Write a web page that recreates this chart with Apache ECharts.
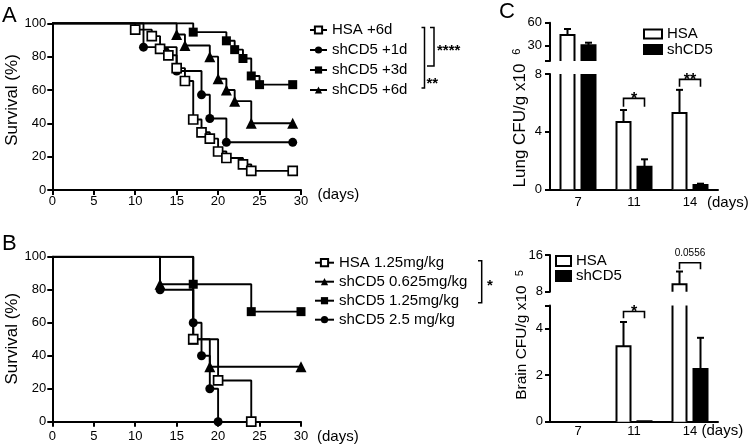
<!DOCTYPE html>
<html>
<head>
<meta charset="utf-8">
<script src="https://cdn.jsdelivr.net/npm/echarts@6/dist/echarts.min.js"></script>
<style>html,body{margin:0;padding:0;background:#fff}#c{width:750px;height:445px}</style>
</head>
<body>
<div id="c"></div>
<script>
// ---------- Panel A: survival, time of treatment ----------
const A_names = ['HSA +6d', 'shCD5 +1d', 'shCD5 +3d', 'shCD5 +6d'];
const A_HSA_t = [0, 10, 12, 13, 14, 15, 16, 17, 18, 19, 20, 21, 23, 24, 29];
const A_HSA_s = [100, 96.2, 92.3, 84.6, 80.8, 73.1, 65.4, 42.3, 34.6, 30.8, 23.1, 19.2, 15.4, 11.5, 11.5];
const A_1d_t = [0, 11, 15, 18, 19, 21, 29];
const A_1d_s = [100, 85.7, 71.4, 57.1, 42.9, 28.6, 28.6];
const A_3d_t = [0, 17, 21, 22, 23, 24, 25, 29];
const A_3d_s = [100, 94.7, 89.5, 84.2, 78.9, 68.4, 63.2, 63.2];
const A_6d_t = [0, 15, 16, 19, 20, 21, 22, 24, 29];
const A_6d_s = [100, 93.3, 86.7, 80, 66.7, 60, 53.3, 40, 40];

// ---------- Panel B: survival, dose ----------
const B_names = ['HSA 1.25mg/kg', 'shCD5 0.625mg/kg', 'shCD5 1.25mg/kg', 'shCD5 2.5 mg/kg'];
const B_HSA_t = [0, 17, 20, 24];
const B_HSA_s = [100, 50, 25, 0];
const B_0625_t = [0, 13, 17, 19, 30];
const B_0625_s = [100, 83.3, 50, 33.3, 33.3];
const B_125_t = [0, 17, 24, 30];
const B_125_s = [100, 83.3, 66.7, 66.7];
const B_25_t = [0, 13, 17, 18, 19, 20];
const B_25_s = [100, 80, 60, 40, 20, 0];

// ---------- Panel C: CFU ----------
const days = ['7', '11', '14'];
const lungHSA = [44, 4.67, 5.3];
const lungHSAErr = [51.8, 5.5, 6.9];
const lungSh = [30.5, 1.57, 0.3];
const lungShErr = [33.9, 2.08, 0.39];
const brainHSA = [0, 3.25, 9.6];
const brainHSAErr = [0, 4.29, 12.4];
const brainSh = [0, 0.02, 2.27];
const brainShErr = [0, 0.02, 3.61];
// significance brackets: [category index, bracket level, leg end]
const lungSig = [[1, 6.31, 5.73], [2, 7.63, 7.12]];
const lungSigText = ['*', '**'];
const brainSigLow = [[1, 4.74, 4.45]];
const brainSigLowText = ['*'];
const brainSigUp = [[2, 14.32, 12.88]];
const brainSigUpText = ['0.0556'];

const FONT = '"Liberation Sans", Arial, Helvetica, sans-serif';
const K = '#000';

function km(t, s) {
  return t.map((x, i) => i === 0 ? { value: [x, s[i]], symbol: 'none' } : { value: [x, s[i]] });
}
function kmSeries(name, t, s, sym, open, gi, size) {
  return {
    type: 'line', name: name, step: 'end', xAxisIndex: gi, yAxisIndex: gi,
    data: km(t, s), symbol: sym, symbolSize: size, showAllSymbol: true,
    lineStyle: { color: K, width: 1.9 },
    itemStyle: { color: open ? '#fff' : K, borderColor: K, borderWidth: open ? 1.7 : 0 },
    emphasis: { disabled: true }, z: open ? 3 : 2
  };
}
function barData(v, e) { return days.map((d, i) => [i, v[i], e[i]]); }
function barRender(sign, fill) {
  return function (params, api) {
    const cs = params.coordSys;
    const i = api.value(0), v = api.value(1), e = api.value(2);
    const pTop = api.coord([i, v]), pBase = api.coord([i, 0]), pErr = api.coord([i, e]);
    const cx = pTop[0] + sign * 10.5, hw = 7;
    const yMin = cs.y, yMax = cs.y + cs.height;
    const kids = [];
    const st = { stroke: K, lineWidth: 2, fill: null };
    const yt = Math.max(pTop[1], yMin), yb = Math.min(pBase[1], yMax);
    if (yb - yt > 0.01) {
      kids.push({ type: 'rect', shape: { x: cx - hw, y: yt, width: 2 * hw, height: yb - yt }, style: { fill: fill } });
      if (pTop[1] >= yMin - 0.01) {
        kids.push({ type: 'polyline', shape: { points: [[cx - hw, yb], [cx - hw, yt], [cx + hw, yt], [cx + hw, yb]] }, style: st });
      } else {
        kids.push({ type: 'line', shape: { x1: cx - hw, y1: yb, x2: cx - hw, y2: yt }, style: st });
        kids.push({ type: 'line', shape: { x1: cx + hw, y1: yb, x2: cx + hw, y2: yt }, style: st });
      }
    }
    if (e > v) {
      const ey = pErr[1];
      const s1 = Math.max(ey, yMin), s2 = Math.min(pTop[1], yMax);
      if (s2 > s1) kids.push({ type: 'line', shape: { x1: cx, y1: s1, x2: cx, y2: s2 }, style: st });
      if (ey >= yMin && ey <= yMax) kids.push({ type: 'line', shape: { x1: cx - 3.5, y1: ey, x2: cx + 3.5, y2: ey }, style: st });
    }
    return { type: 'group', children: kids };
  };
}
function sigRender(labels) {
  return function (params, api) {
    const i = api.value(0), yb = api.value(1), yl = api.value(2);
    const p = api.coord([i, yb]), q = api.coord([i, yl]);
    const x1 = p[0] - 10.5, x2 = p[0] + 10.5;
    const lab = labels[params.dataIndex];
    const star = lab.indexOf('*') >= 0;
    return {
      type: 'group', children: [
        { type: 'polyline', shape: { points: [[x1, q[1]], [x1, p[1]], [x2, p[1]], [x2, q[1]]] }, style: { stroke: K, lineWidth: 1.6, fill: null } },
        { type: 'text', style: { text: lab, x: p[0], y: star ? p[1] + 1 : p[1] - 9, align: 'center', verticalAlign: 'middle', font: star ? 'bold 16px ' + FONT : '10px ' + FONT, fill: K } }
      ]
    };
  };
}
function barSeries(name, gi, v, e, sign, fill) {
  return { type: 'custom', name: name, xAxisIndex: gi, yAxisIndex: gi, data: barData(v, e), renderItem: barRender(sign, fill), clip: false, z: 2 };
}
function sigSeries(gi, data, labels) {
  return { type: 'custom', name: 'sig' + gi, xAxisIndex: gi, yAxisIndex: gi, data: data, renderItem: sigRender(labels), clip: false, z: 3 };
}

const axLine = { lineStyle: { color: K, width: 2 } };
const axTick = { length: 5, lineStyle: { color: K, width: 2 } };
function lab(m) { return { color: K, fontSize: 13, fontFamily: FONT, margin: m }; }

const grids = [
  { left: 52.3, top: 23.3, width: 248.7, height: 166.7 },   // A
  { left: 52.3, top: 256.7, width: 248.7, height: 165 },    // B
  { left: 550, top: 22.7, width: 168, height: 38.3 },       // lung upper
  { left: 550, top: 74, width: 168, height: 115.3 },        // lung lower
  { left: 550, top: 255, width: 168, height: 36.7 },        // brain upper
  { left: 550, top: 305.5, width: 168, height: 116.2 }      // brain lower
];

function survX(gi, m) {
  return {
    type: 'value', gridIndex: gi, min: 0, max: 30, interval: 5,
    axisLine: axLine, axisTick: axTick, splitLine: { show: false }, axisLabel: lab(m)
  };
}
function survY(gi) {
  return {
    type: 'value', gridIndex: gi, min: 0, max: 100, interval: 20,
    axisLine: { show: true, lineStyle: { color: K, width: 2 } }, axisTick: { show: true, length: 5, lineStyle: { color: K, width: 2 } },
    splitLine: { show: false }, axisLabel: lab(6)
  };
}
function catX(gi, show, m) {
  return {
    type: 'category', gridIndex: gi, data: days, show: show,
    axisLine: axLine, axisTick: { alignWithLabel: true, length: 5, lineStyle: { color: K, width: 2 } },
    axisLabel: lab(m)
  };
}
function valY(gi, min, max, opts) {
  return Object.assign({
    type: 'value', gridIndex: gi, min: min, max: max,
    axisLine: { show: true, lineStyle: { color: K, width: 2 } },
    axisTick: { show: true, length: 5, lineStyle: { color: K, width: 2 } },
    splitLine: { show: false }, axisLabel: lab(7)
  }, opts);
}
function txt(x, y, s, font) {
  return { type: 'text', x: x, y: y,
    style: { text: s, font: font, fill: K, align: 'left', verticalAlign: 'middle' } };
}
function rotTxt(x, y, s, size) {
  return { type: 'text', x: x, y: y, rotation: Math.PI / 2,
    style: { text: s, font: size + 'px ' + FONT, fill: K, align: 'center', verticalAlign: 'middle' } };
}

const option = {
  animation: false,
  backgroundColor: '#fff',
  textStyle: { fontFamily: FONT },
  grid: grids,
  xAxis: [
    survX(0, 4.5),
    survX(1, 8),
    catX(2, false, 6.7),
    catX(3, true, 6.7),
    catX(4, false, 3),
    catX(5, true, 3)
  ],
  yAxis: [
    survY(0),
    survY(1),
    valY(2, 10, 60, { axisTick: { show: true, length: 5, lineStyle: { color: K, width: 2 }, customValues: [10, 30, 60] }, axisLabel: Object.assign(lab(8), { customValues: [30, 60] }) }),
    valY(3, 0, 8, { interval: 4, axisLabel: lab(8) }),
    valY(4, 8, 16, { interval: 8 }),
    valY(5, 0, 5, { axisTick: { show: true, length: 5, lineStyle: { color: K, width: 2 }, customValues: [0, 2, 4, 5] }, axisLabel: Object.assign(lab(7), { customValues: [0, 2, 4] }) })
  ],
  legend: [
    { data: A_names, left: 309, top: 22.5, padding: 0, orient: 'vertical', itemWidth: 17, itemHeight: 9, itemGap: 5, selectedMode: false,
      textStyle: { color: K, fontSize: 15, fontFamily: FONT } },
    { data: B_names, left: 314, top: 255.2, padding: 0, orient: 'vertical', itemWidth: 19, itemHeight: 9, itemGap: 4, selectedMode: false,
      textStyle: { color: K, fontSize: 15, fontFamily: FONT } },
    { data: [{ name: 'HSA', icon: 'rect', itemStyle: { color: '#fff', borderColor: K, borderWidth: 2 } },
             { name: 'shCD5', icon: 'rect', itemStyle: { color: K, borderColor: K, borderWidth: 2 } }],
      left: 643, top: 26.5, padding: 0, orient: 'vertical', itemWidth: 18, itemHeight: 9, itemGap: 0.5, selectedMode: false,
      textStyle: { color: K, fontSize: 15, fontFamily: FONT } },
    { data: [{ name: 'HSA', icon: 'rect', itemStyle: { color: '#fff', borderColor: K, borderWidth: 2 } },
             { name: 'shCD5', icon: 'rect', itemStyle: { color: K, borderColor: K, borderWidth: 2 } }],
      left: 555, top: 253.5, padding: 0, orient: 'vertical', itemWidth: 15, itemHeight: 10, itemGap: 0, selectedMode: false,
      textStyle: { color: K, fontSize: 15, fontFamily: FONT } }
  ],
  series: [
    kmSeries(A_names[0], A_HSA_t, A_HSA_s, 'rect', true, 0, 9),
    kmSeries(A_names[1], A_1d_t, A_1d_s, 'circle', false, 0, 9),
    kmSeries(A_names[2], A_3d_t, A_3d_s, 'rect', false, 0, 9),
    kmSeries(A_names[3], A_6d_t, A_6d_s, 'triangle', false, 0, 11),
    kmSeries(B_names[0], B_HSA_t, B_HSA_s, 'rect', true, 1, 9),
    kmSeries(B_names[1], B_0625_t, B_0625_s, 'triangle', false, 1, 11),
    kmSeries(B_names[2], B_125_t, B_125_s, 'rect', false, 1, 9),
    kmSeries(B_names[3], B_25_t, B_25_s, 'circle', false, 1, 9),
    barSeries('HSA', 2, lungHSA, lungHSAErr, -1, '#fff'),
    barSeries('shCD5', 2, lungSh, lungShErr, 1, K),
    barSeries('HSA', 3, lungHSA, lungHSAErr, -1, '#fff'),
    barSeries('shCD5', 3, lungSh, lungShErr, 1, K),
    barSeries('HSA', 4, brainHSA, brainHSAErr, -1, '#fff'),
    barSeries('shCD5', 4, brainSh, brainShErr, 1, K),
    barSeries('HSA', 5, brainHSA, brainHSAErr, -1, '#fff'),
    barSeries('shCD5', 5, brainSh, brainShErr, 1, K),
    sigSeries(3, lungSig, lungSigText),
    sigSeries(5, brainSigLow, brainSigLowText),
    sigSeries(4, brainSigUp, brainSigUpText)
  ],
  graphic: [
    { type: 'text', left: 2, top: 5, style: { text: 'A', font: '22px ' + FONT, fill: K } },
    { type: 'text', left: 2, top: 233, style: { text: 'B', font: '22px ' + FONT, fill: K } },
    { type: 'text', left: 499, top: 1, style: { text: 'C', font: '22px ' + FONT, fill: K } },
    // axis titles
    rotTxt(12.5, 100, 'Survival (%)', 17),
    rotTxt(12.5, 338.7, 'Survival (%)', 17),
    txt(317.5, 195, '(days)', '15px ' + FONT),
    txt(317, 436.5, '(days)', '15px ' + FONT),
    txt(707, 203, '(days)', '15px ' + FONT),
    txt(701.5, 431, '(days)', '15px ' + FONT),
    // panel A comparison brackets
    { type: 'polyline', shape: { points: [[421.5, 27.5], [424.5, 27.5], [424.5, 88], [421.5, 88]] }, style: { stroke: K, lineWidth: 1.5, fill: null } },
    { type: 'polyline', shape: { points: [[430, 27.5], [434, 27.5], [434, 66], [427, 66]] }, style: { stroke: K, lineWidth: 1.5, fill: null } },
    txt(437, 51, '****', 'bold 15px ' + FONT),
    txt(426.5, 84, '**', 'bold 15px ' + FONT),
    // panel B comparison bracket
    { type: 'polyline', shape: { points: [[478, 260.7], [481.7, 260.7], [481.7, 302.7], [478, 302.7]] }, style: { stroke: K, lineWidth: 1.5, fill: null } },
    txt(487, 286, '*', 'bold 15px ' + FONT),
    // panel C axis titles
    { type: 'text', x: 520, y: 118, rotation: Math.PI / 2,
      style: { text: '{a|Lung CFU/g x10}{s|6}', align: 'center', verticalAlign: 'middle', fill: K,
        rich: { a: { fontSize: 17, fontFamily: FONT, fill: K }, s: { fontSize: 11, fontFamily: FONT, fill: K, verticalAlign: 'top', padding: [0, 0, 0, 9] } } } },
    { type: 'text', x: 522, y: 335, rotation: Math.PI / 2,
      style: { text: '{a|Brain CFU/g x10}{s|5}', align: 'center', verticalAlign: 'middle', fill: K,
        rich: { a: { fontSize: 15.5, fontFamily: FONT, fill: K }, s: { fontSize: 11, fontFamily: FONT, fill: K, verticalAlign: 'top', padding: [0, 0, 0, 9] } } } }
  ]
};

const chart = echarts.init(document.getElementById('c'), null, { renderer: 'canvas' });
chart.setOption(option);
</script>
</body>
</html>
